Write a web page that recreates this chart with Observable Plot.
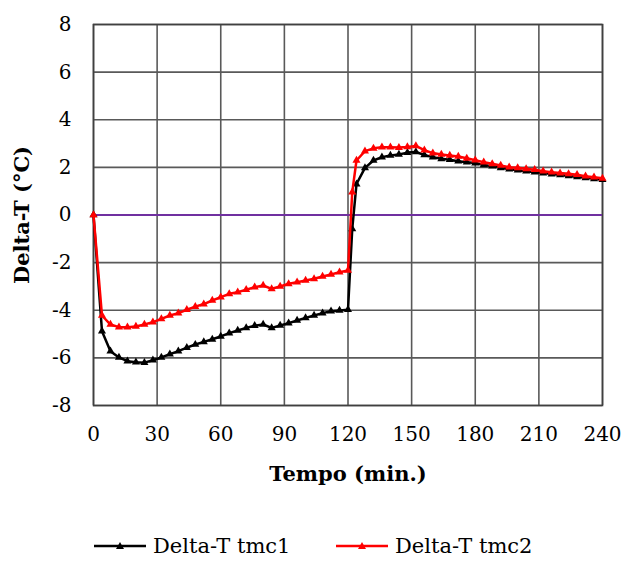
<!DOCTYPE html>
<html>
<head>
<meta charset="utf-8">
<script src="https://cdn.jsdelivr.net/npm/d3@7"></script>
<script src="https://cdn.jsdelivr.net/npm/@observablehq/plot@0.6"></script>
<style>
  html, body { margin: 0; padding: 0; background: #fff; }
  #chart { width: 623px; }
  .legend { height: 41px; font-family: "DejaVu Serif", serif; font-size: 21px; color: #000; position: relative; }
  .legend .item { display: flex; align-items: center; position: absolute; }
  .legend svg { margin-right: 6px; }
</style>
</head>
<body>
<div id="chart"></div>
<script>
const time = [0,4,8,12,16,20,24,28,32,36,40,44,48,52,56,60,64,68,72,76,80,84,88,92,96,100,104,108,112,116,120,
  122,124,128,132,136,140,144,148,152,156,160,164,168,172,176,180,184,188,192,196,200,204,208,212,216,220,224,228,232,236,240];
const tmc1 = [0,-4.88,-5.72,-5.98,-6.14,-6.18,-6.2,-6.1,-5.98,-5.84,-5.72,-5.57,-5.44,-5.33,-5.22,-5.1,-4.96,-4.85,-4.74,-4.65,-4.6,-4.74,-4.64,-4.54,-4.43,-4.32,-4.22,-4.12,-4.04,-4.01,-3.98,
  -0.58,1.3,1.98,2.29,2.43,2.5,2.54,2.62,2.65,2.52,2.43,2.36,2.32,2.26,2.22,2.18,2.1,2.05,1.98,1.92,1.88,1.84,1.8,1.76,1.72,1.68,1.64,1.6,1.56,1.52,1.48];
const tmc2 = [0,-4.22,-4.6,-4.71,-4.71,-4.68,-4.6,-4.5,-4.36,-4.22,-4.12,-3.98,-3.85,-3.74,-3.59,-3.45,-3.31,-3.24,-3.14,-3.03,-2.96,-3.1,-3.0,-2.89,-2.82,-2.75,-2.68,-2.58,-2.5,-2.4,-2.33,
  0.96,2.29,2.68,2.8,2.85,2.85,2.83,2.86,2.9,2.72,2.6,2.54,2.5,2.46,2.38,2.3,2.22,2.15,2.08,2.01,1.98,1.94,1.9,1.84,1.8,1.76,1.73,1.69,1.63,1.59,1.54];
const seriesNames = ["Delta-T tmc1", "Delta-T tmc2"];
const seriesColors = ["#000000", "#ff0000"];
const xTicks = [0,30,60,90,120,150,180,210,240];
const yTicks = [-8,-6,-4,-2,0,2,4,6,8];

const rows1 = time.map((t, i) => ({t, v: tmc1[i]}));
const rows2 = time.map((t, i) => ({t, v: tmc2[i]}));

const plot = Plot.plot({
  width: 623,
  height: 520,
  marginLeft: 93,
  marginRight: 21,
  marginTop: 24,
  marginBottom: 115,
  style: { fontFamily: "DejaVu Serif, serif", fontSize: "20px", color: "#000", background: "#fff" },
  x: { domain: [0, 240], ticks: xTicks, tickSize: 0, tickPadding: 21, label: null, tickFormat: d => String(d) },
  y: { domain: [-8, 8], ticks: yTicks, tickSize: 0, tickPadding: 22, label: null, tickFormat: d => String(d) },
  marks: [
    Plot.gridX(xTicks, { stroke: "#595959", strokeOpacity: 1, strokeWidth: 1.6 }),
    Plot.gridY(yTicks, { stroke: "#595959", strokeOpacity: 1, strokeWidth: 1.6 }),
    Plot.frame({ stroke: "#404040", strokeWidth: 1.6 }),
    Plot.ruleY([0], { stroke: "#7030a0", strokeWidth: 2 }),
    Plot.line(rows1, { x: "t", y: "v", stroke: seriesColors[0], strokeWidth: 2.5 }),
    Plot.dot(rows1, { x: "t", y: "v", symbol: "triangle", r: 3, fill: seriesColors[0], stroke: "none" }),
    Plot.line(rows2, { x: "t", y: "v", stroke: seriesColors[1], strokeWidth: 2.5 }),
    Plot.dot(rows2, { x: "t", y: "v", symbol: "triangle", r: 3, fill: seriesColors[1], stroke: "none" }),
    Plot.text(["Tempo (min.)"], { frameAnchor: "bottom", dy: 75, text: d => d, fontWeight: "bold", fontSize: 21, textAnchor: "middle" }),
    Plot.text(["Delta-T (°C)"], { frameAnchor: "left", dx: -71, rotate: -90, text: d => d, fontWeight: "bold", fontSize: 21, textAnchor: "middle" })
  ]
});
document.getElementById("chart").appendChild(plot);

const legend = document.createElement("div");
legend.className = "legend";
const xs = [93, 335];
seriesNames.forEach((name, i) => {
  const item = document.createElement("div");
  item.className = "item";
  item.style.left = xs[i] + "px";
  item.style.top = "14px";
  const c = seriesColors[i];
  item.innerHTML = `<svg width="54" height="12"><line x1="1" y1="6" x2="53" y2="6" stroke="${c}" stroke-width="2.5"/><path d="M27,2 L31,9 L23,9 Z" fill="${c}"/></svg><span>${name}</span>`;
  legend.appendChild(item);
});
document.body.appendChild(legend);
</script>
</body>
</html>
